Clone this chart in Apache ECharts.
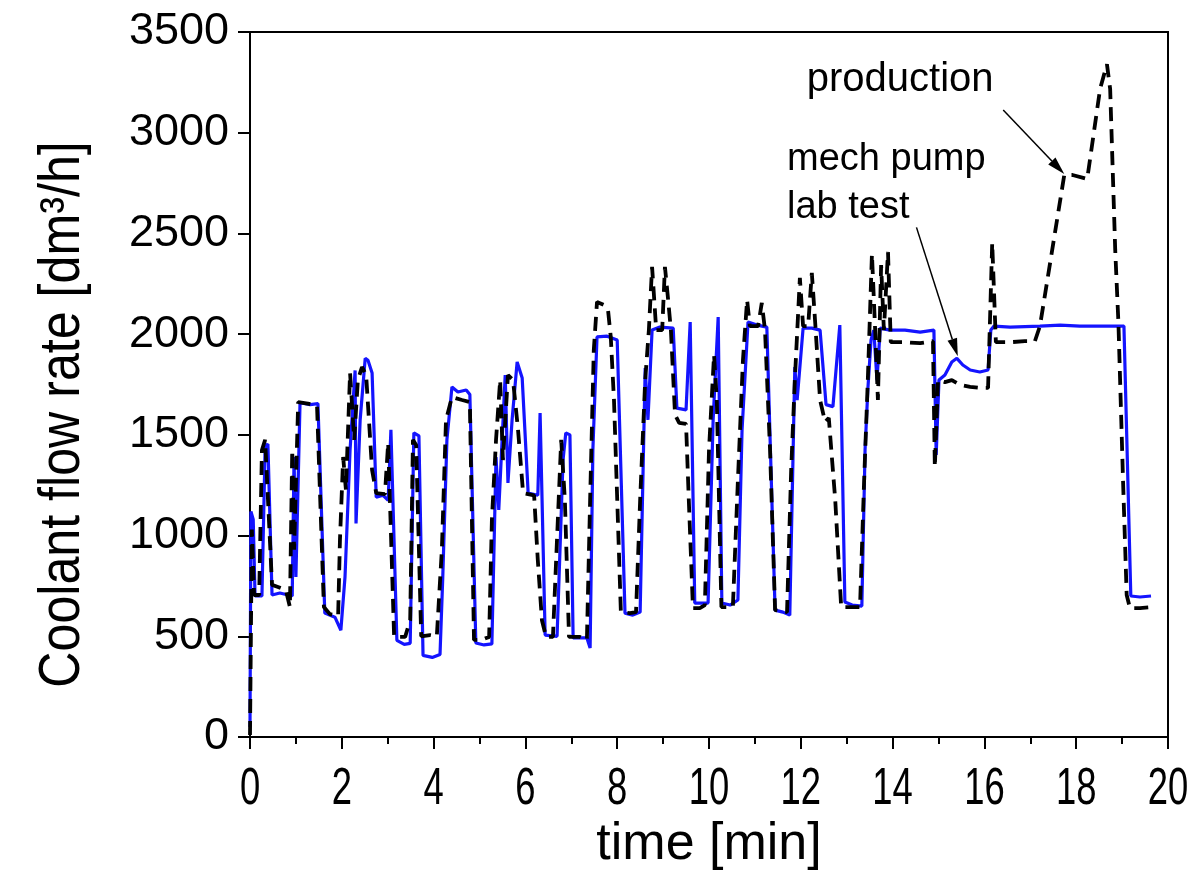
<!DOCTYPE html>
<html>
<head>
<meta charset="utf-8">
<script src="https://cdn.jsdelivr.net/npm/echarts@6/dist/echarts.min.js"></script>
<style>
  html, body { margin: 0; padding: 0; background: #fff; }
  #chart { width: 1202px; height: 889px; }
</style>
</head>
<body>
<div id="chart"></div>
<script>
// Coolant flow rate traces: mechanical pump lab test (solid) vs production (dashed)
const labTime = [0.00,0.02,0.07,0.11,0.26,0.33,0.39,0.48,0.65,0.92,0.96,1.00,1.09,1.31,1.48,1.63,1.85,1.98,2.07,2.18,2.29,2.31,2.40,2.51,2.57,2.66,2.75,2.90,3.01,3.07,3.20,3.36,3.49,3.57,3.68,3.77,3.97,4.14,4.20,4.29,4.40,4.53,4.71,4.79,4.92,5.10,5.27,5.36,5.42,5.56,5.62,5.71,5.82,5.93,6.06,6.27,6.32,6.43,6.69,6.82,6.88,6.97,7.04,7.34,7.41,7.47,7.56,7.78,8.00,8.17,8.34,8.50,8.61,8.67,8.76,8.93,9.22,9.30,9.50,9.59,9.69,9.98,10.09,10.20,10.28,10.46,10.63,10.72,10.85,11.05,11.26,11.44,11.61,11.76,11.87,11.92,12.05,12.24,12.42,12.55,12.70,12.85,12.96,13.12,13.33,13.40,13.46,13.53,13.59,13.66,13.73,13.94,14.27,14.60,14.90,14.95,15.01,15.14,15.29,15.40,15.53,15.69,15.90,16.08,16.14,16.21,16.56,17.21,17.65,18.08,18.52,19.04,19.19,19.39,19.63];
const labFlow = [50,1120,1080,700,700,1440,1455,705,715,700,1390,795,1660,1650,1655,615,595,530,795,1425,1820,1060,1575,1880,1870,1807,1190,1200,1175,1525,480,460,465,1510,1495,405,395,410,795,1475,1738,1713,1723,1700,467,457,462,1390,1127,1797,1261,1574,1862,1782,1211,1200,1608,506,500,1375,1510,1500,492,492,442,1425,1986,1990,1971,615,605,620,1832,1574,2020,2035,2030,1633,1624,2060,665,665,1574,2085,665,655,680,1524,2060,2045,2035,630,620,605,1837,1673,2030,2030,2020,1650,1640,2045,670,655,650,1425,1723,1971,2020,1772,2030,2020,2020,2010,2020,1400,1772,1797,1862,1880,1847,1822,1812,1822,2020,2040,2035,2040,2045,2040,2040,2040,700,695,700];

const prodTime = [0.00,0.04,0.09,0.20,0.26,0.33,0.48,0.61,0.78,0.87,0.92,0.96,1.05,1.26,1.46,1.61,1.74,1.92,1.96,2.03,2.09,2.18,2.27,2.35,2.44,2.53,2.66,2.75,2.94,3.01,3.14,3.38,3.49,3.55,3.62,3.73,3.92,4.07,4.18,4.27,4.40,4.62,4.79,4.88,5.05,5.21,5.27,5.36,5.45,5.51,5.62,5.73,5.84,5.95,6.19,6.27,6.36,6.45,6.60,6.67,6.78,6.86,6.95,7.19,7.34,7.41,7.49,7.56,7.71,7.80,7.86,7.93,8.08,8.28,8.41,8.50,8.61,8.69,8.76,8.85,8.98,9.04,9.11,9.17,9.26,9.35,9.50,9.56,9.65,9.80,9.91,10.00,10.11,10.17,10.27,10.41,10.52,10.63,10.74,10.83,10.89,11.07,11.15,11.22,11.33,11.44,11.59,11.70,11.79,11.87,11.98,12.05,12.16,12.24,12.31,12.42,12.53,12.61,12.75,12.88,13.07,13.29,13.38,13.46,13.55,13.62,13.68,13.75,13.81,13.90,13.96,14.27,14.60,14.88,14.92,14.99,15.14,15.29,15.47,15.69,15.90,16.08,16.17,16.25,16.56,16.88,17.10,17.21,17.74,17.92,18.24,18.52,18.67,18.74,18.85,18.92,19.02,19.10,19.17,19.39,19.65];
const prodFlow = [10,1030,705,705,1425,1475,755,745,730,645,1425,930,1663,1655,1645,645,610,600,980,1390,1226,1807,1475,1772,1837,1797,1325,1211,1206,1460,497,497,580,1475,1450,500,506,500,930,1574,1688,1673,1663,482,482,497,1077,1475,1772,1375,1797,1772,1524,1211,1200,879,580,497,497,879,1475,1177,497,497,482,1177,1921,2160,2145,2120,1986,1673,620,615,620,1177,1772,2020,2334,2020,2020,2334,2170,2020,1600,1559,1554,1177,640,640,655,1425,1897,1673,645,645,645,1276,1872,2170,2040,2040,2155,2020,1425,630,625,620,1325,1772,2279,2040,2040,2304,2070,1673,1564,1584,1177,645,645,645,1276,1772,2398,2020,1673,2343,2020,2408,1960,1960,1955,1965,1340,1772,1762,1772,1748,1738,1733,1733,2453,1960,1960,1965,1965,2040,2790,2790,2770,3217,3340,3217,2418,2055,1276,705,640,640,645];

const xTicks = [0, 2, 4, 6, 8, 10, 12, 14, 16, 18, 20];
const yTicks = [0, 500, 1000, 1500, 2000, 2500, 3000, 3500];
const xTitle = 'time [min]';
const yTitle = 'Coolant flow rate [dm³/h]';

// Text notes with arrows, in data coordinates
const notes = [
  { lines: ['production'], size: 40, at: [12.13, 3262], from: [16.41, 3113], to: [17.74, 2795] },
  { lines: ['mech pump', 'lab test'], size: 38, at: [11.70, 2865], from: [14.52, 2530], to: [15.42, 1890] }
];

const zip = (a, b) => a.map((t, i) => [t, b[i]]);

const chart = echarts.init(document.getElementById('chart'), null, { renderer: 'canvas' });

const sans = "'Liberation Sans', Arial, sans-serif";

chart.setOption({
  backgroundColor: '#ffffff',
  animation: false,
  grid: { left: 250, right: 34, top: 32, bottom: 152, show: true, borderColor: '#000', borderWidth: 2, backgroundColor: 'transparent' },
  xAxis: {
    type: 'value', min: xTicks[0], max: xTicks[xTicks.length - 1], interval: 2,
    name: xTitle, nameLocation: 'middle', nameGap: 82,
    nameTextStyle: { fontSize: 52, fontFamily: sans, color: '#000' },
    axisLine: { show: true, lineStyle: { color: '#000', width: 2 } },
    axisTick: { show: true, inside: false, length: 12, lineStyle: { color: '#000', width: 2 } },
    minorTick: { show: true, splitNumber: 2, length: 7, lineStyle: { color: '#000', width: 2 } },
    splitLine: { show: false },
    axisLabel: { show: false }
  },
  yAxis: {
    type: 'value', min: yTicks[0], max: yTicks[yTicks.length - 1], interval: 500,
    axisLine: { show: true, lineStyle: { color: '#000', width: 2 } },
    axisTick: { show: true, inside: false, length: 12, lineStyle: { color: '#000', width: 2 } },
    splitLine: { show: false },
    axisLabel: { fontSize: 45, fontFamily: sans, color: '#000', margin: 21,
      formatter: v => String(v) }
  },
  series: [
    {
      name: 'mech pump lab test', type: 'line', data: zip(labTime, labFlow),
      showSymbol: false, symbol: 'none', z: 2,
      lineStyle: { color: '#1414ff', width: 3.2 }
    },
    {
      name: 'production', type: 'line', data: zip(prodTime, prodFlow),
      showSymbol: false, symbol: 'none', z: 3,
      lineStyle: { color: '#000', width: 3.8, type: [14, 8] }
    }
  ]
});

// Narrow x tick labels and vertical axis title, placed through the axis scales
function arrow(p0, p1) {
  const dx = p1[0] - p0[0], dy = p1[1] - p0[1];
  const len = Math.hypot(dx, dy), ux = dx / len, uy = dy / len;
  const hl = 18, hw = 5;
  const bx = p1[0] - ux * hl, by = p1[1] - uy * hl;
  return [
    { type: 'line', shape: { x1: p0[0], y1: p0[1], x2: bx, y2: by }, style: { stroke: '#000', lineWidth: 1.5 }, z: 10 },
    { type: 'polygon', shape: { points: [[p1[0], p1[1]], [bx - uy * hw, by + ux * hw], [bx + uy * hw, by - ux * hw]] }, style: { fill: '#000' }, z: 10 }
  ];
}

const elements = [];
xTicks.forEach(t => {
  const p = chart.convertToPixel({ gridIndex: 0 }, [t, 0]);
  elements.push({ type: 'text', x: p[0], y: p[1] + 53, scaleX: 0.7, z: 10,
    style: { text: String(t), font: '52px ' + sans, fill: '#000', align: 'center', verticalAlign: 'middle' } });
});
{
  const top = chart.convertToPixel({ gridIndex: 0 }, [0, yTicks[yTicks.length - 1]]);
  const bot = chart.convertToPixel({ gridIndex: 0 }, [0, 0]);
  elements.push({ type: 'text', x: 63, y: (top[1] + bot[1]) / 2 + 30, rotation: Math.PI / 2, scaleX: 0.88, z: 10,
    style: { text: yTitle, font: '57px ' + sans, fill: '#000', align: 'center', verticalAlign: 'middle' } });
}
notes.forEach(n => {
  const p = chart.convertToPixel({ gridIndex: 0 }, n.at);
  n.lines.forEach((line, i) => {
    elements.push({ type: 'text', x: p[0], y: p[1] + i * 48, z: 10,
      style: { text: line, font: n.size + 'px ' + sans, fill: '#000', align: 'left', verticalAlign: 'middle' } });
  });
  const a = chart.convertToPixel({ gridIndex: 0 }, n.from);
  const b = chart.convertToPixel({ gridIndex: 0 }, n.to);
  elements.push(...arrow(a, b));
});
chart.setOption({ graphic: { elements } });
</script>
</body>
</html>
